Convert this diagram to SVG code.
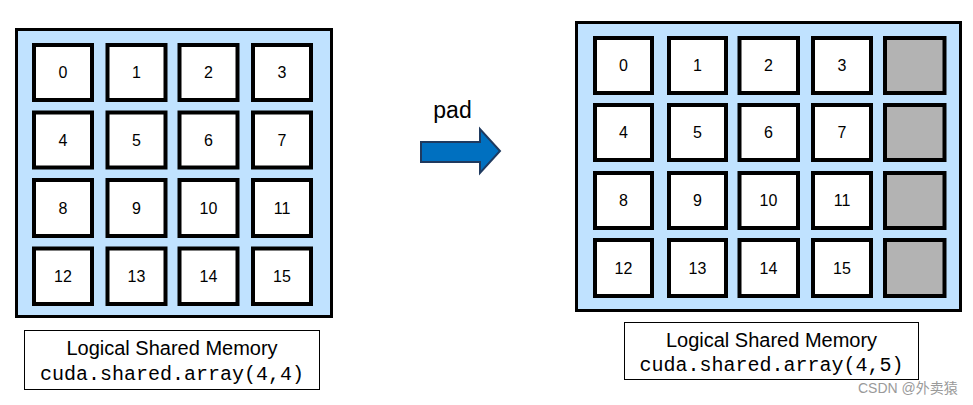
<svg xmlns="http://www.w3.org/2000/svg" width="973" height="405" viewBox="0 0 973 405">
<style>
.panel{fill:#C0E2FF;stroke:#000;stroke-width:3}
.cell{fill:#fff;stroke:#000;stroke-width:4}
.pad{fill:#B3B3B3;stroke:#000;stroke-width:4}
.num{font-family:"Liberation Sans",Arial,sans-serif;font-size:16px;fill:#000;text-anchor:middle;dominant-baseline:central}
.lbl{fill:#fff;stroke:#000;stroke-width:1}
.t1{font-family:"Liberation Sans",Arial,sans-serif;font-size:20px;fill:#000;text-anchor:middle}
.t2{font-family:"Liberation Mono","Courier New",monospace;font-size:20px;fill:#000;text-anchor:middle}
</style>
<rect width="973" height="405" fill="#fff"/>
<g id="left-array">
<rect class="panel" x="16.5" y="29.5" width="315" height="287"/>
<g id="L0"><rect class="cell" x="34" y="45" width="58" height="55"/><text class="num" x="63" y="72.5">0</text></g>
<g id="L1"><rect class="cell" x="107.5" y="45" width="58" height="55"/><text class="num" x="136.5" y="72.5">1</text></g>
<g id="L2"><rect class="cell" x="179.5" y="45" width="58" height="55"/><text class="num" x="208.5" y="72.5">2</text></g>
<g id="L3"><rect class="cell" x="253" y="45" width="58" height="55"/><text class="num" x="282" y="72.5">3</text></g>
<g id="L4"><rect class="cell" x="34" y="112.5" width="58" height="55"/><text class="num" x="63" y="140">4</text></g>
<g id="L5"><rect class="cell" x="107.5" y="112.5" width="58" height="55"/><text class="num" x="136.5" y="140">5</text></g>
<g id="L6"><rect class="cell" x="179.5" y="112.5" width="58" height="55"/><text class="num" x="208.5" y="140">6</text></g>
<g id="L7"><rect class="cell" x="253" y="112.5" width="58" height="55"/><text class="num" x="282" y="140">7</text></g>
<g id="L8"><rect class="cell" x="34" y="180" width="58" height="56"/><text class="num" x="63" y="208">8</text></g>
<g id="L9"><rect class="cell" x="107.5" y="180" width="58" height="56"/><text class="num" x="136.5" y="208">9</text></g>
<g id="L10"><rect class="cell" x="179.5" y="180" width="58" height="56"/><text class="num" x="208.5" y="208">10</text></g>
<g id="L11"><rect class="cell" x="253" y="180" width="58" height="56"/><text class="num" x="282" y="208">11</text></g>
<g id="L12"><rect class="cell" x="34" y="248.5" width="58" height="55.5"/><text class="num" x="63" y="276">12</text></g>
<g id="L13"><rect class="cell" x="107.5" y="248.5" width="58" height="55.5"/><text class="num" x="136.5" y="276">13</text></g>
<g id="L14"><rect class="cell" x="179.5" y="248.5" width="58" height="55.5"/><text class="num" x="208.5" y="276">14</text></g>
<g id="L15"><rect class="cell" x="253" y="248.5" width="58" height="55.5"/><text class="num" x="282" y="276">15</text></g>
</g>
<g id="left-label">
<rect class="lbl" x="24.5" y="330.5" width="295" height="59"/>
<text class="t1" x="172" y="355">Logical Shared Memory</text>
<text class="t2" x="172" y="380">cuda.shared.array(4,4)</text>
</g>
<g id="connectors">
<text class="t1" x="452.5" y="118" style="font-size:23px">pad</text>
<polygon points="421,142 480,142 480,129 500,151 480,173 480,162 421,162" fill="#0070C0" stroke="#1F3A5F" stroke-width="2" stroke-linejoin="miter"/>
</g>
<g id="right-array">
<rect class="panel" x="576.5" y="22.5" width="384" height="288"/>
<g id="R0"><rect class="cell" x="595" y="38" width="57" height="55"/><text class="num" x="623.5" y="65.5">0</text></g>
<g id="R1"><rect class="cell" x="669" y="38" width="57" height="55"/><text class="num" x="697.5" y="65.5">1</text></g>
<g id="R2"><rect class="cell" x="739.5" y="38" width="58.5" height="55"/><text class="num" x="768.5" y="65.5">2</text></g>
<g id="R3"><rect class="cell" x="813" y="38" width="58" height="55"/><text class="num" x="842" y="65.5">3</text></g>
<g id="R4"><rect class="pad" x="885" y="38" width="59.5" height="55"/></g>
<g id="R5"><rect class="cell" x="595" y="105" width="57" height="55"/><text class="num" x="623.5" y="132.5">4</text></g>
<g id="R6"><rect class="cell" x="669" y="105" width="57" height="55"/><text class="num" x="697.5" y="132.5">5</text></g>
<g id="R7"><rect class="cell" x="739.5" y="105" width="58.5" height="55"/><text class="num" x="768.5" y="132.5">6</text></g>
<g id="R8"><rect class="cell" x="813" y="105" width="58" height="55"/><text class="num" x="842" y="132.5">7</text></g>
<g id="R9"><rect class="pad" x="885" y="105" width="59.5" height="55"/></g>
<g id="R10"><rect class="cell" x="595" y="173" width="57" height="55"/><text class="num" x="623.5" y="200.5">8</text></g>
<g id="R11"><rect class="cell" x="669" y="173" width="57" height="55"/><text class="num" x="697.5" y="200.5">9</text></g>
<g id="R12"><rect class="cell" x="739.5" y="173" width="58.5" height="55"/><text class="num" x="768.5" y="200.5">10</text></g>
<g id="R13"><rect class="cell" x="813" y="173" width="58" height="55"/><text class="num" x="842" y="200.5">11</text></g>
<g id="R14"><rect class="pad" x="885" y="173" width="59.5" height="55"/></g>
<g id="R15"><rect class="cell" x="595" y="240" width="57" height="56"/><text class="num" x="623.5" y="268">12</text></g>
<g id="R16"><rect class="cell" x="669" y="240" width="57" height="56"/><text class="num" x="697.5" y="268">13</text></g>
<g id="R17"><rect class="cell" x="739.5" y="240" width="58.5" height="56"/><text class="num" x="768.5" y="268">14</text></g>
<g id="R18"><rect class="cell" x="813" y="240" width="58" height="56"/><text class="num" x="842" y="268">15</text></g>
<g id="R19"><rect class="pad" x="885" y="240" width="59.5" height="56"/></g>
</g>
<g id="right-label">
<rect class="lbl" x="624.5" y="322.5" width="294" height="57"/>
<text class="t1" x="771.5" y="347">Logical Shared Memory</text>
<text class="t2" x="771.5" y="371">cuda.shared.array(4,5)</text>
</g>
<text x="858" y="393" style="font-family:'Liberation Sans','Noto Sans CJK SC',sans-serif;font-size:14px;fill:#9A9A9A">CSDN @外卖猿</text>
</svg>
